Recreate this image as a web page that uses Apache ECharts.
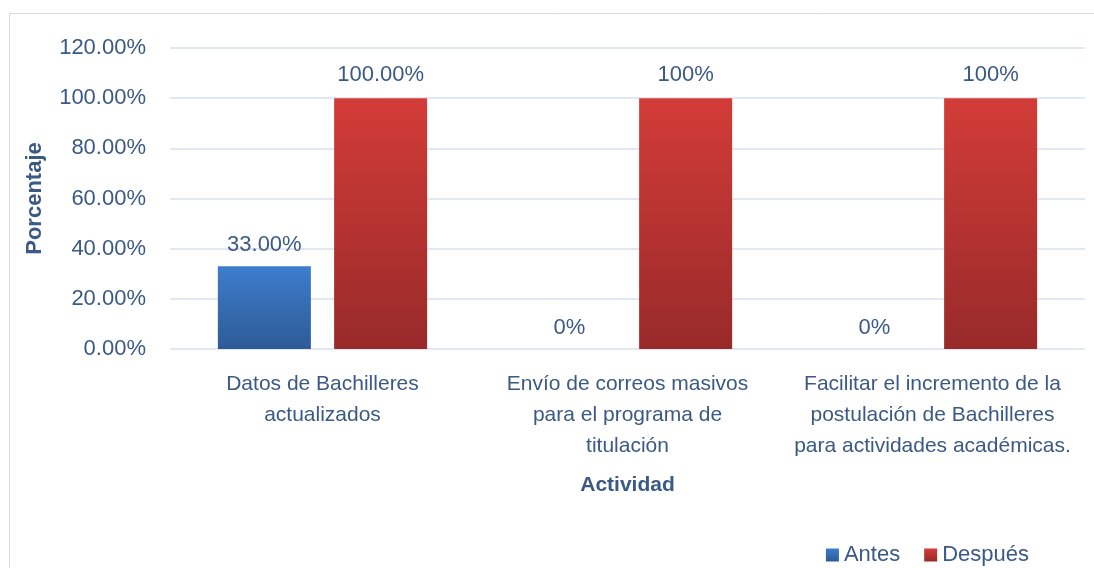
<!DOCTYPE html>
<html>
<head>
<meta charset="utf-8">
<script src="https://cdn.jsdelivr.net/npm/echarts@6/dist/echarts.min.js"></script>
<style>
    html, body {margin: 0; padding: 0; background: #fff;}
    #main {width: 1094px; height: 568px;}
</style>
</head>
<body>
<div id="main"></div>
<script>
// datos
var categorias = [
    'Datos de Bachilleres\nactualizados',
    'Envío de correos masivos\npara el programa de\ntitulación',
    'Facilitar el incremento de la\npostulación de Bachilleres\npara actividades académicas.'
];
var antes = [33, 0, 0];
var despues = [100, 100, 100];
var etiquetasAntes = ['33.00%', '0%', '0%'];
var etiquetasDespues = ['100.00%', '100%', '100%'];
var ticksY = [0, 20, 40, 60, 80, 100, 120];

var textColor = '#3a5985';
var fuente = 'Liberation Sans';

var myChart = echarts.init(document.getElementById('main'));

var option = {
    backgroundColor: '#fff',
    textStyle: {fontFamily: fuente},
    graphic: [{
        type: 'rect',
        silent: true,
        shape: {x: 9.5, y: 13.5, width: 1200, height: 700},
        style: {fill: 'none', stroke: '#d9d9d9', lineWidth: 1}
    }],
    grid: {left: 170, right: 9, top: 48, bottom: 219},
    legend: {
        right: 60,
        top: 539,
        icon: 'rect',
        itemWidth: 13,
        itemHeight: 13,
        itemGap: 24,
        textStyle: {color: textColor, fontSize: 22, fontFamily: fuente},
        data: ['Antes', 'Después']
    },
    xAxis: {
        type: 'category',
        data: categorias,
        name: 'Actividad',
        nameLocation: 'middle',
        nameGap: 126,
        nameTextStyle: {color: textColor, fontSize: 21, fontWeight: 'bold', fontFamily: fuente},
        axisLine: {show: false},
        axisTick: {show: false},
        axisLabel: {
            color: textColor,
            fontSize: 21,
            lineHeight: 31,
            margin: 20,
            interval: 0,
            fontFamily: fuente
        }
    },
    yAxis: {
        type: 'value',
        min: 0,
        max: 120,
        interval: 20,
        name: 'Porcentaje',
        nameLocation: 'middle',
        nameGap: 124,
        nameTextStyle: {color: textColor, fontSize: 22, fontWeight: 'bold', fontFamily: fuente},
        axisLine: {show: false},
        axisTick: {show: false},
        axisLabel: {
            color: textColor,
            fontSize: 22,
            margin: 24,
            fontFamily: fuente,
            formatter: function (v) {
                return v.toFixed(2) + '%';
            }
        },
        splitLine: {lineStyle: {color: '#d6e0f0', width: 1.5}}
    },
    series: [
        {
            name: 'Antes',
            type: 'bar',
            data: antes,
            barWidth: '30.5%',
            barGap: '25%',
            itemStyle: {
                color: new echarts.graphic.LinearGradient(0, 0, 0, 1, [
                    {offset: 0, color: '#3d7dcc'},
                    {offset: 1, color: '#2d5b96'}
                ])
            },
            label: {
                show: true,
                position: 'top',
                distance: 10,
                color: textColor,
                fontSize: 22,
                fontFamily: fuente,
                formatter: function (p) {
                    return etiquetasAntes[p.dataIndex];
                }
            }
        },
        {
            name: 'Después',
            type: 'bar',
            data: despues,
            barWidth: '30.5%',
            itemStyle: {
                color: new echarts.graphic.LinearGradient(0, 0, 0, 1, [
                    {offset: 0, color: '#d33c38'},
                    {offset: 1, color: '#982a29'}
                ])
            },
            label: {
                show: true,
                position: 'top',
                distance: 12,
                color: textColor,
                fontSize: 22,
                fontFamily: fuente,
                formatter: function (p) {
                    return etiquetasDespues[p.dataIndex];
                }
            }
        }
    ]
};
myChart.setOption(option);
</script>
</body>
</html>
